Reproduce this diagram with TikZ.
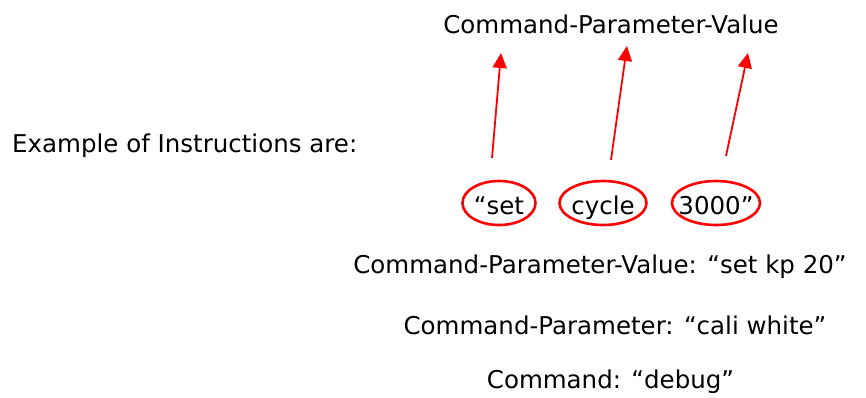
\documentclass[tikz,border=0pt]{standalone}
\usepackage{fontspec}
\setmainfont{DejaVu Sans}
\usetikzlibrary{shapes.geometric,arrows.meta}
\begin{document}
\begin{tikzpicture}[x=1pt,y=-1pt,
  lbl/.style={font=\fontsize{24.5}{28}\selectfont, inner sep=0pt, anchor=base},
  word/.style={draw=red, line width=2.6pt, ellipse, inner sep=0pt, minimum height=44pt},
  wordtext/.style={font=\fontsize{24.5}{28}\selectfont, inner sep=0pt, anchor=base},
  pointer/.style={draw=red, line width=1.8pt, -{Triangle[length=15pt,width=14pt]}}]
\useasboundingbox (0,0) rectangle (866,398);
\node[lbl] (title) at (611,34) {Command-Parameter-Value};
\node[lbl, anchor=base west] (intro) at (12,153) {Example of Instructions are:};
% circled words of the instruction
\node[word, minimum width=73pt] (w1) at (499,203) {};
\node[word, minimum width=87pt] (w2) at (603,203) {};
\node[word, minimum width=88pt] (w3) at (716,203) {};
\node[wordtext] (t1w) at (w1 |- 0,214) {“set};
\node[wordtext] (t2w) at (w2 |- 0,214) {cycle};
\node[wordtext] (t3w) at (w3 |- 0,214) {3000”};
% arrows pointing from each word to its role
\coordinate (a1) at (492,158); \coordinate (t1) at (501,53);
\coordinate (a2) at (611,160); \coordinate (t2) at (627,46);
\coordinate (a3) at (726,156); \coordinate (t3) at (748,53);
\draw[pointer] (a1) -- (t1);
\draw[pointer] (a2) -- (t2);
\draw[pointer] (a3) -- (t3);
\node[lbl] (ex1) at (600,273) {Command-Parameter-Value: “set kp 20”};
\node[lbl] (ex2) at (615,334) {Command-Parameter: “cali white”};
\node[lbl] (ex3) at (610.5,388) {Command: “debug”};
\end{tikzpicture}
\end{document}
